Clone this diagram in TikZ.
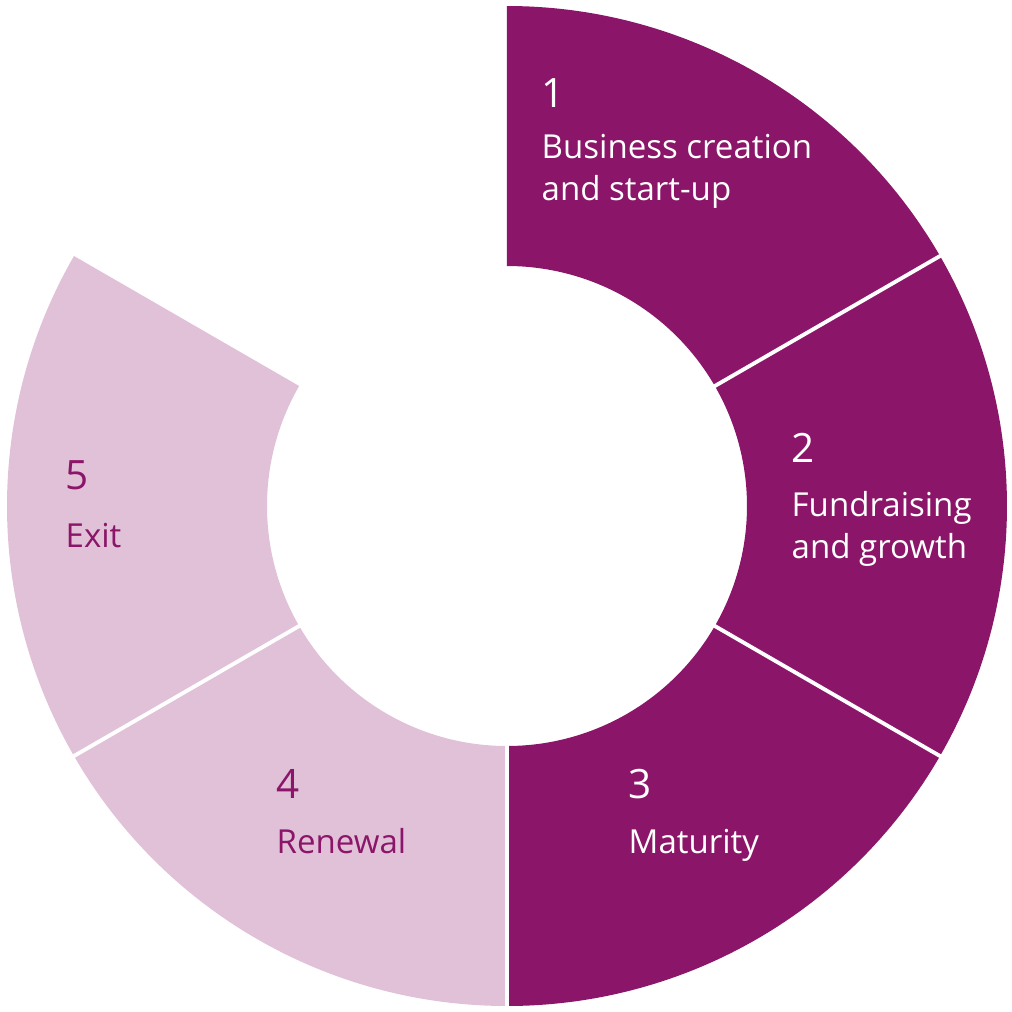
\documentclass[tikz,border=0pt]{standalone}
\usepackage{fontspec}
\setmainfont{Open Sans}
\usetikzlibrary{positioning}
\definecolor{stageDark}{RGB}{139,21,104}
\definecolor{stageLight}{RGB}{224,193,216}

\begin{document}
\begin{tikzpicture}[
  num/.style={font=\fontsize{11.5}{14}\selectfont, anchor=base west, inner sep=0pt},
  lbl/.style={font=\fontsize{9.4}{11.95}\selectfont, anchor=base west, align=left, inner sep=0pt},
]
  \useasboundingbox (-5.07,-5.06) rectangle (5.05,5.06);
  % five stages of 60 degrees, clockwise from the top
  \foreach \a/\c in {90/stageDark, 30/stageDark, -30/stageDark, -90/stageLight, -150/stageLight}
    \fill[\c] (\a:2.4) -- (\a:5) arc[start angle=\a, end angle=\a-60, radius=5]
      -- (\a-60:2.4) arc[start angle=\a-60, end angle=\a, radius=2.4] -- cycle;
  % white gaps
  \foreach \a in {30,-30,-90,-150}
    \draw[white, line width=1.1pt] (\a:2.3) -- (\a:5.1);

  % labels (base anchor sits on the last line)
  \node[num, white] (n1) at (0.34,3.99) {1};
  \node[lbl, white] (t1) at (0.34,3.06) {Business creation\\and start-up};
  \node[num, white] (n2) at (2.84,0.44) {2};
  \node[lbl, white] (t2) at (2.84,-0.52) {Fundraising\\and growth};
  \node[num, white] (n3) at (1.21,-2.92) {3};
  \node[lbl, white] (t3) at (1.21,-3.47) {Maturity};
  \node[num, stageDark] (n4) at (-2.31,-2.92) {4};
  \node[lbl, stageDark] (t4) at (-2.31,-3.47) {Renewal};
  \node[num, stageDark] (n5) at (-4.42,0.17) {5};
  \node[lbl, stageDark] (t5) at (-4.42,-0.41) {Exit};
\end{tikzpicture}
\end{document}
